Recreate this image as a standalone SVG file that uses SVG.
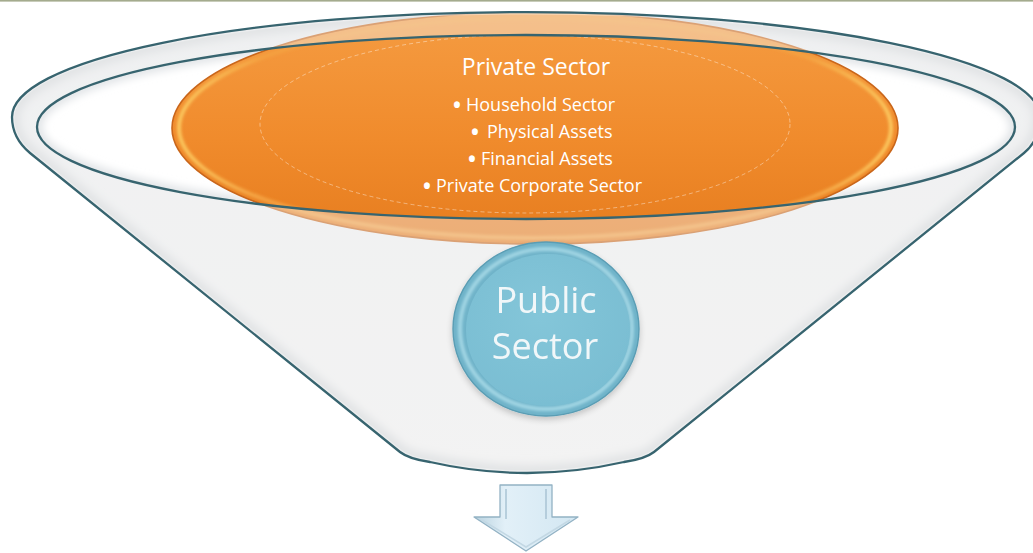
<svg xmlns="http://www.w3.org/2000/svg" width="1033" height="553" viewBox="0 0 1033 553">
  <defs>
    <style>
      .rim { fill: none; stroke: #37646f; stroke-width: 2.3; }
      .label { font-family: "Open Sans", "Liberation Sans", sans-serif; fill: #ffffff; }
      .dot { font-size: 21px; font-weight: bold; }
      .pub { font-family: "Open Sans", "Liberation Sans", sans-serif; fill: #f1f7f9; font-size: 36px; text-anchor: middle; }
    </style>
    <!-- funnel outline: elliptical mouth with tapered sides -->
    <path id="funnelShape" d="M 12,117 C 12,131 18,143 30,153 L 400,452 Q 409,459 430,462 Q 527,484 624,462 Q 645,459 654,452 L 1024,153 C 1036,143 1040,131 1040,117 A 514 105 0 0 0 12,117 Z"/>
    <ellipse id="mouth" cx="526" cy="127" rx="489" ry="92"/>
    <clipPath id="funnelClip"><use href="#funnelShape"/></clipPath>
    <clipPath id="mouthClip"><use href="#mouth"/></clipPath>
    <filter id="soft" x="-10%" y="-10%" width="120%" height="120%"><feGaussianBlur stdDeviation="4"/></filter>
    <filter id="soft2" x="-10%" y="-10%" width="120%" height="120%"><feGaussianBlur stdDeviation="1.6"/></filter>
    <filter id="shadow" x="-20%" y="-20%" width="140%" height="140%">
      <feGaussianBlur in="SourceAlpha" stdDeviation="3"/>
      <feOffset dy="3"/>
      <feComponentTransfer><feFuncA type="linear" slope="0.2"/></feComponentTransfer>
      <feMerge><feMergeNode/><feMergeNode in="SourceGraphic"/></feMerge>
    </filter>
    <linearGradient id="bodyGrad" x1="0" y1="0" x2="0" y2="1">
      <stop offset="0" stop-color="#eceef0"/>
      <stop offset="1" stop-color="#f3f3f3"/>
    </linearGradient>
    <linearGradient id="orangeGrad" x1="0" y1="0" x2="0" y2="1">
      <stop offset="0" stop-color="#f59c42"/>
      <stop offset="0.55" stop-color="#f08b2c"/>
      <stop offset="1" stop-color="#e67c1e"/>
    </linearGradient>
    <linearGradient id="bevelGrad" x1="0" y1="0" x2="1" y2="0">
      <stop offset="0" stop-color="#fbc75e"/>
      <stop offset="0.12" stop-color="#f4a040"/>
      <stop offset="0.88" stop-color="#f4a040"/>
      <stop offset="1" stop-color="#fbc75e"/>
    </linearGradient>
    <radialGradient id="blueGrad" cx="0.45" cy="0.4" r="0.65">
      <stop offset="0" stop-color="#84c6d9"/>
      <stop offset="1" stop-color="#79bdd2"/>
    </radialGradient>
    <linearGradient id="arrowGrad" x1="0" y1="0" x2="1" y2="0">
      <stop offset="0" stop-color="#b9d2df"/>
      <stop offset="0.3" stop-color="#e2f0f8"/>
      <stop offset="1" stop-color="#d3e7f2"/>
    </linearGradient>
  </defs>

  <!-- thin rule along the top edge -->
  <rect x="0" y="0" width="1033" height="1.6" fill="#a4ab8e"/>

  <g id="funnel">
    <use href="#funnelShape" fill="url(#bodyGrad)"/>
    <!-- inner shading along the funnel wall -->
    <g clip-path="url(#funnelClip)">
      <use href="#funnelShape" fill="none" stroke="#d6d9dc" stroke-width="16" filter="url(#soft)"/>
    </g>
    <!-- open mouth -->
    <use href="#mouth" fill="#ffffff"/>
    <g clip-path="url(#mouthClip)">
      <use href="#mouth" fill="none" stroke="#dfe2e5" stroke-width="10" filter="url(#soft)"/>
    </g>
  </g>

  <g id="private-sector">
    <ellipse cx="535" cy="128" rx="363" ry="116" fill="url(#orangeGrad)" stroke="#c9661b" stroke-width="1.6"/>
    <ellipse cx="535" cy="128" rx="356" ry="110" fill="none" stroke="url(#bevelGrad)" stroke-width="4" filter="url(#soft2)"/>
    <ellipse cx="525" cy="124" rx="265" ry="89" fill="none" stroke="#ffffff" stroke-opacity="0.5" stroke-width="0.8" stroke-dasharray="4 3"/>
  </g>

  <!-- glass wall seen over the orange disc outside the mouth -->
  <path d="M 12,117 C 12,131 18,143 30,153 L 400,452 Q 409,459 430,462 Q 527,484 624,462 Q 645,459 654,452 L 1024,153 C 1036,143 1040,131 1040,117 A 514 105 0 0 0 12,117 Z M 37,127 A 489 92 0 0 0 1015,127 A 489 92 0 0 0 37,127 Z" fill="#f2f2f2" fill-opacity="0.42" fill-rule="evenodd"/>

  <g id="funnel-lines">
    <use href="#funnelShape" fill="none" stroke="#ffffff" stroke-width="5" stroke-opacity="0.35"/>
    <use href="#funnelShape" class="rim"/>
    <use href="#mouth" class="rim"/>
  </g>

  <g id="private-sector-text">
    <text class="label" x="536" y="75" font-size="23" text-anchor="middle">Private Sector</text>
    <text class="label" font-size="18"><tspan class="dot" x="453" y="113">•</tspan><tspan x="466" y="111">Household Sector</tspan></text>
    <text class="label" font-size="18"><tspan class="dot" x="471" y="140">•</tspan><tspan x="487" y="138">Physical Assets</tspan></text>
    <text class="label" font-size="18"><tspan class="dot" x="468" y="167">•</tspan><tspan x="481" y="165">Financial Assets</tspan></text>
    <text class="label" font-size="18"><tspan class="dot" x="423" y="194">•</tspan><tspan x="436" y="192">Private Corporate Sector</tspan></text>
  </g>

  <g id="public-sector" filter="url(#shadow)">
    <ellipse cx="546" cy="329" rx="93" ry="87" fill="#6fb3c9" stroke="#5a9db4" stroke-width="1.4"/>
    <ellipse cx="546" cy="329" rx="86" ry="80" fill="none" stroke="#b0e0ec" stroke-width="4" stroke-opacity="0.8" filter="url(#soft2)"/>
    <ellipse cx="548" cy="330" rx="82" ry="76" fill="url(#blueGrad)"/>
    <text class="pub" x="546" y="313">Public</text>
    <text class="pub" x="545" y="359">Sector</text>
  </g>

  <g id="connectors">
    <path d="M 500,485 L 552,485 L 552,517 L 578,517 L 526,551 L 474,517 L 500,517 Z" fill="url(#arrowGrad)" stroke="#93b2c4" stroke-width="1.3" stroke-linejoin="round"/>
    <path d="M 506,489 L 506,519 M 546,489 L 546,519" fill="none" stroke="#a9c4d3" stroke-width="1.5"/>
    <path d="M 482,520 L 526,547 L 570,520" fill="none" stroke="#c3d8e4" stroke-width="1.5"/>
  </g>
</svg>
